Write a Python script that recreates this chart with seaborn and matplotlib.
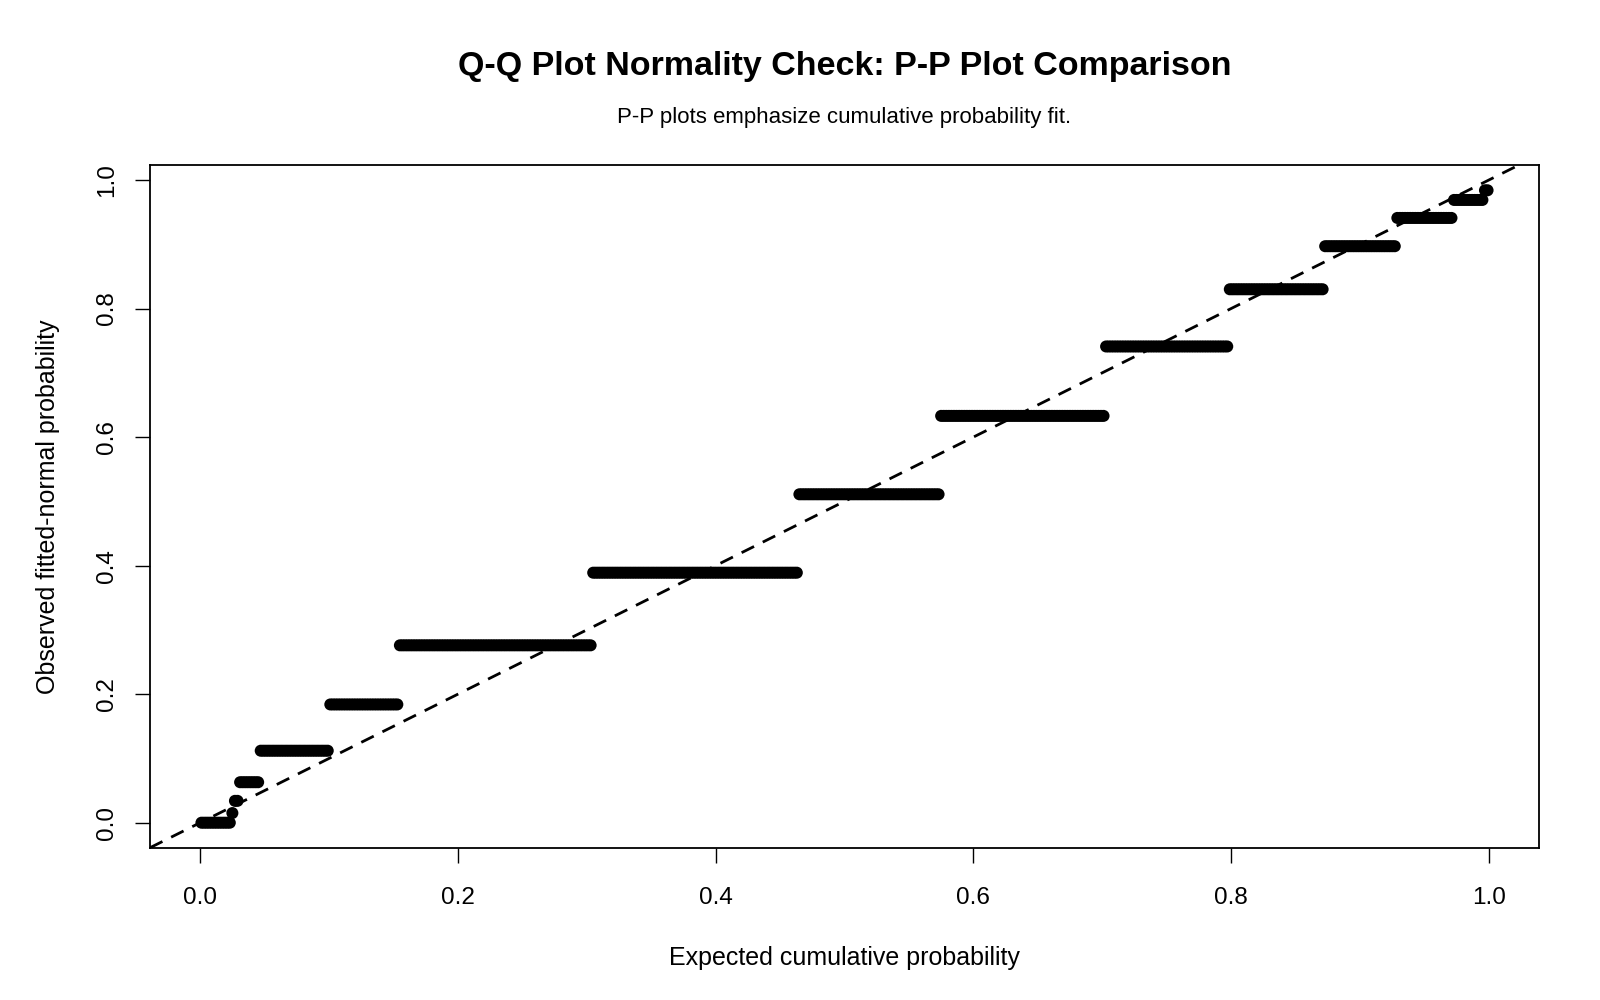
import numpy as np
import pandas as pd
import matplotlib
matplotlib.use("Agg")
import matplotlib.pyplot as plt
import seaborn as sns

# Step levels of observed fitted-normal probability and number of points at each level
step_y = [0.000, 0.015, 0.034, 0.063, 0.112, 0.184, 0.276, 0.389, 0.511, 0.633,
          0.741, 0.830, 0.897, 0.941, 0.969, 0.984]
step_counts = [12, 1, 2, 8, 27, 27, 75, 80, 55, 64, 48, 37, 28, 22, 12, 2]
x_ticks = [0.0, 0.2, 0.4, 0.6, 0.8, 1.0]
y_ticks = [0.0, 0.2, 0.4, 0.6, 0.8, 1.0]

n = sum(step_counts)
observed = np.repeat(step_y, step_counts)
expected = (np.arange(1, n + 1) - 0.5) / n
df = pd.DataFrame({"expected": expected, "observed": observed})

sns.set_style("white")
plt.rcParams["font.family"] = ["Liberation Sans", "DejaVu Sans"]
plt.rcParams["text.color"] = "black"
plt.rcParams["xtick.color"] = "black"
plt.rcParams["ytick.color"] = "black"
plt.rcParams["axes.labelcolor"] = "black"

fig = plt.figure(figsize=(16, 10), dpi=100)
ax = fig.add_axes([150 / 1600, 1 - 848 / 1000, (1539 - 150) / 1600, (848 - 165) / 1000])

sns.scatterplot(data=df, x="expected", y="observed", ax=ax, color="black",
                s=75, linewidth=0, edgecolor="none", zorder=3)
ax.axline((0, 0), slope=1, color="black", lw=2.0, ls=(0, (5, 3.5)), zorder=2)

xr = expected.max() - expected.min()
yr = observed.max() - observed.min()
ax.set_xlim(expected.min() - 0.04 * xr, expected.max() + 0.04 * xr)
ax.set_ylim(observed.min() - 0.04 * yr, observed.max() + 0.04 * yr)

ax.set_xticks(x_ticks)
ax.set_yticks(y_ticks)
ax.set_xticklabels([f"{t:.1f}" for t in x_ticks])
ax.set_yticklabels([f"{t:.1f}" for t in y_ticks], rotation=90, va="center")
ax.tick_params(axis="both", direction="out", length=11, width=1.0, color="black",
               labelcolor="black", labelsize=17.5, bottom=True, left=True)
ax.tick_params(axis="x", pad=17)
ax.tick_params(axis="y", pad=12)
for s in ax.spines.values():
    s.set_visible(True)
    s.set_color("black")
    s.set_linewidth(1.3)
ax.set_xlabel("")
ax.set_ylabel("")

cx = (150 + 1539) / 2 / 1600
fig.text(cx, 1 - 66 / 1000, "Q-Q Plot Normality Check: P-P Plot Comparison",
         ha="center", va="center", fontsize=24.5, fontweight="bold", color="black")
fig.text(cx, 1 - 117 / 1000, "P-P plots emphasize cumulative probability fit.",
         ha="center", va="center", fontsize=16, color="black")
fig.text(cx, 1 - 958 / 1000, "Expected cumulative probability",
         ha="center", va="center", fontsize=18, color="black")
fig.text(48 / 1600, 1 - ((165 + 848) / 2) / 1000, "Observed fitted-normal probability",
         ha="center", va="center", fontsize=18, rotation=90, color="black")

fig.savefig("out.png", dpi=100)
